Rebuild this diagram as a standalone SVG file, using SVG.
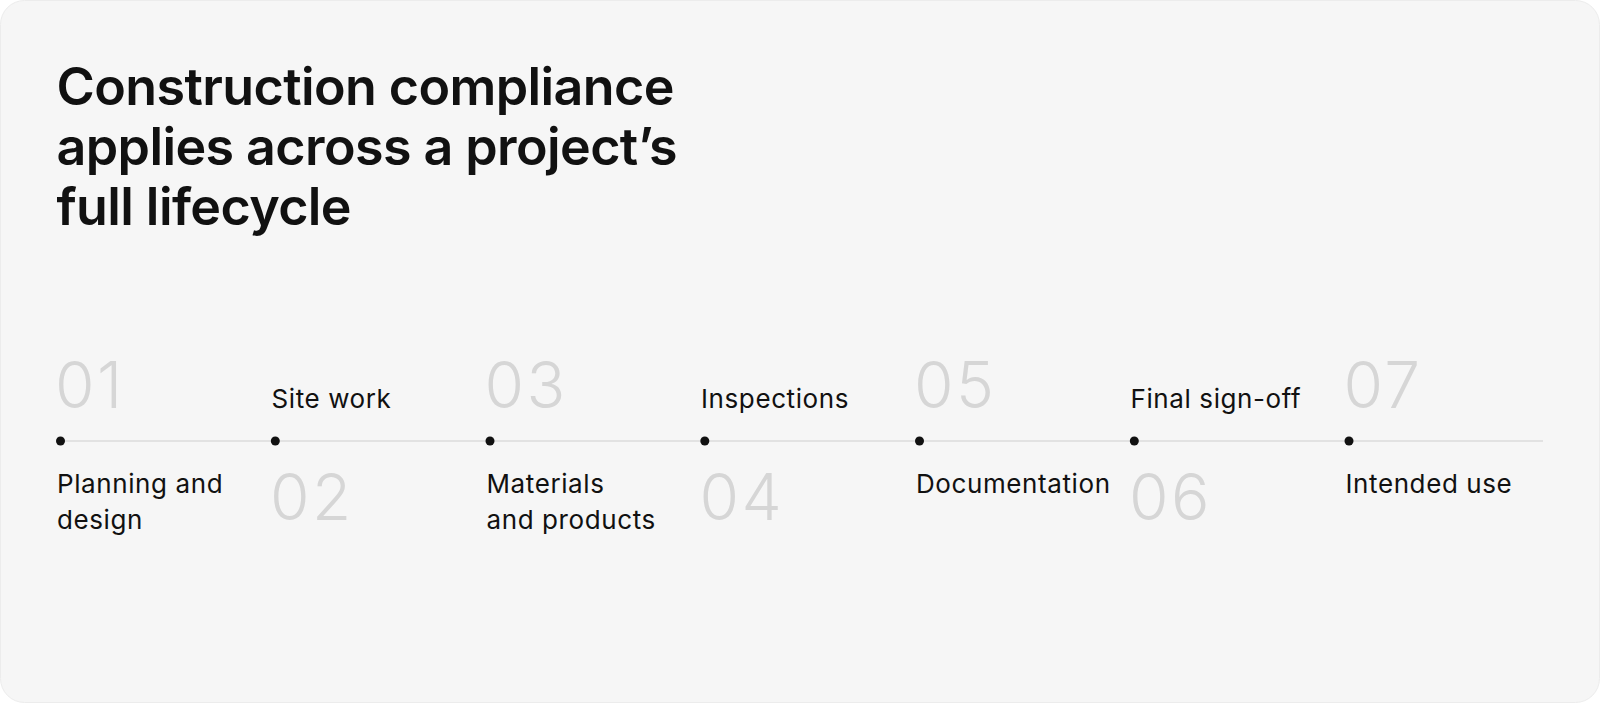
<svg xmlns="http://www.w3.org/2000/svg" width="1600" height="703" viewBox="0 0 1600 703">
<style>
.title{font-family:Inter,"Liberation Sans",sans-serif;font-weight:600;font-size:52px;letter-spacing:-0.6px;fill:#111}
.num{font-family:Inter,"Liberation Sans",sans-serif;font-weight:300;font-size:64px;fill:#d6d6d6;letter-spacing:2.5px}
.lbl{font-family:Inter,"Liberation Sans",sans-serif;font-weight:400;font-size:26px;fill:#111;letter-spacing:0.6px}
.dot{fill:#111}
</style>
<rect x="0" y="0" width="1600" height="703" fill="#ffffff"/>
<rect x="0.5" y="0.5" width="1599" height="702" rx="24" fill="#f6f6f6" stroke="#ececec"/>
<g id="title">
<text class="title" x="56.5" y="105">Construction compliance</text>
<text class="title" x="56.5" y="165">applies across a project’s</text>
<text class="title" x="56.5" y="225">full lifecycle</text>
</g>
<g id="connectors">
<line x1="60" y1="441" x2="1543" y2="441" stroke="#e2e2e2" stroke-width="2"/>
</g>
<g id="step1">
<circle class="dot" cx="60.5" cy="441" r="4.5"/>
<text class="num" x="55" y="408">01</text>
<text class="lbl" x="57" y="493">Planning and</text>
<text class="lbl" x="57" y="529">design</text>
</g>
<g id="step2">
<circle class="dot" cx="275.3" cy="441" r="4.5"/>
<text class="lbl" x="271.5" y="408">Site work</text>
<text class="num" x="270" y="520">02</text>
</g>
<g id="step3">
<circle class="dot" cx="490" cy="441" r="4.5"/>
<text class="num" x="484.5" y="408">03</text>
<text class="lbl" x="486.5" y="493">Materials</text>
<text class="lbl" x="486.5" y="529">and products</text>
</g>
<g id="step4">
<circle class="dot" cx="704.8" cy="441" r="4.5"/>
<text class="lbl" x="701" y="408">Inspections</text>
<text class="num" x="699.5" y="520">04</text>
</g>
<g id="step5">
<circle class="dot" cx="919.5" cy="441" r="4.5"/>
<text class="num" x="914" y="408">05</text>
<text class="lbl" x="916" y="493">Documentation</text>
</g>
<g id="step6">
<circle class="dot" cx="1134.3" cy="441" r="4.5"/>
<text class="lbl" x="1130.5" y="408">Final sign-off</text>
<text class="num" x="1129" y="520">06</text>
</g>
<g id="step7">
<circle class="dot" cx="1349" cy="441" r="4.5"/>
<text class="num" x="1343.5" y="408">07</text>
<text class="lbl" x="1345.5" y="493">Intended use</text>
</g>
</svg>
